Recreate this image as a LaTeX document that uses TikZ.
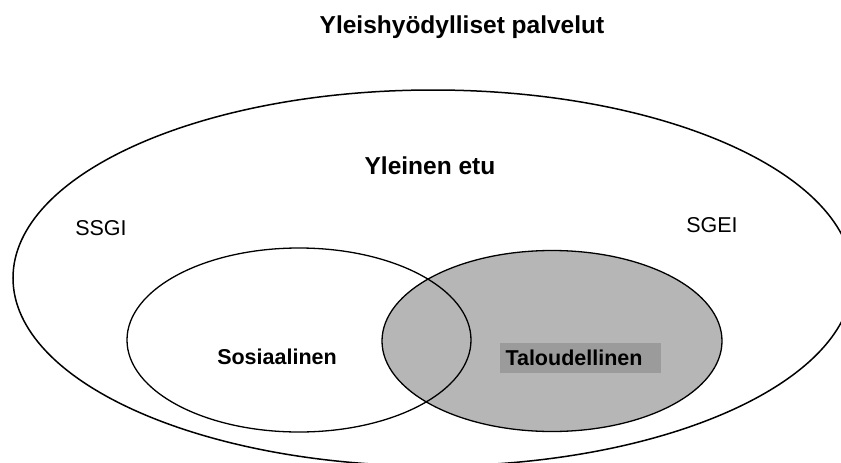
\documentclass[tikz,border=0pt]{standalone}
\usepackage{fontspec}
\setmainfont{Liberation Sans}
\definecolor{econfill}{RGB}{182,182,182}
\definecolor{labbg}{RGB}{155,155,155}
\begin{document}
\begin{tikzpicture}[x=1pt,y=-1pt,
  lbl/.style={anchor=base,inner sep=0pt,font=\fontsize{21.5}{25}\selectfont},
  blbl/.style={lbl,font=\fontsize{21.5}{25}\selectfont\bfseries},
  big/.style={anchor=base,inner sep=0pt,font=\fontsize{24.5}{28}\selectfont\bfseries},
  outline/.style={draw=black,line width=1.3pt}]
\useasboundingbox (0,0) rectangle (841,463);
\clip (0,0) rectangle (841,463);
\fill[white] (0,0) rectangle (841,463);
% outer ellipse
\draw[line width=1.5pt] (433,278) ellipse [x radius=420, y radius=188];
% economic (shaded) ellipse
\fill[econfill] (552,341) ellipse [x radius=170, y radius=90.5];
\fill[labbg] (500,343) rectangle (661,373);
\draw[outline] (552,341) ellipse [x radius=170, y radius=90.5];
% social ellipse
\draw[outline] (299,340) ellipse [x radius=172, y radius=92];
% texts
\node[big] (title) at (462,33) {Yleishyödylliset palvelut};
\node[big] (etu) at (430,174) {Yleinen etu};
\node[lbl] (ssgi) at (101,235) {SSGI};
\node[lbl] (sgei) at (712,232) {SGEI};
\node[blbl] (sos) at (277,364) {Sosiaalinen};
\node[blbl] (tal) at (574,365) {Taloudellinen};
\end{tikzpicture}
\end{document}
